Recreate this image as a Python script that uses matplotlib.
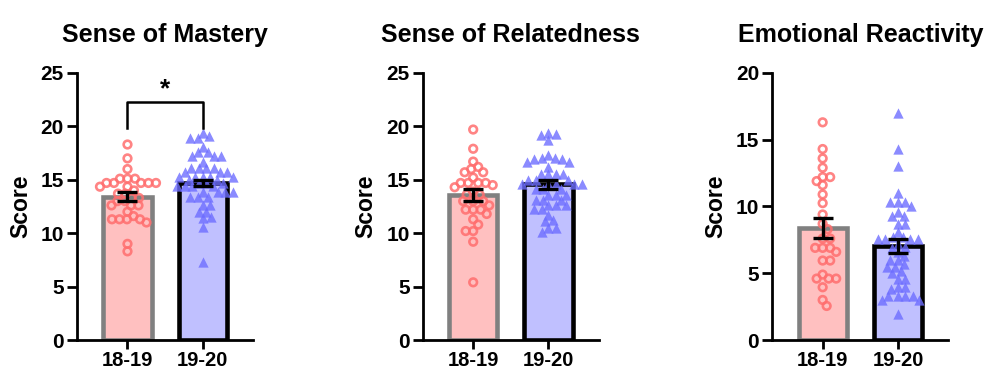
import numpy as np
import matplotlib
matplotlib.use("Agg")
import matplotlib.pyplot as plt

plt.rcParams['font.family'] = ['Liberation Sans', 'DejaVu Sans']
plt.rcParams['font.weight'] = 'bold'

titles = ["Sense of Mastery", "Sense of Relatedness", "Emotional Reactivity"]
groups = ["18-19", "19-20"]
ylims = [25, 25, 20]

mastery_1819 = [18.3, 17.0, 16.0, 15.1, 15.1, 15.1, 14.7, 14.7, 14.7, 14.7, 14.7,
                14.35, 14.35, 14.0, 13.7, 13.7, 13.3, 13.3, 13.0, 13.0, 12.6, 12.6,
                12.6, 12.0, 11.6, 11.3, 11.3, 11.3, 11.3, 11.0, 9.0, 8.3]
mastery_1920 = [19.4, 19.1, 18.9, 18.9, 18.1, 17.6, 17.6, 17.2, 17.2, 17.2, 16.7,
                16.1, 16.1, 16.1, 16.1, 15.7, 15.7, 15.7, 15.3, 15.3, 15.3, 15.3,
                15.3, 15.0, 15.0, 14.7, 14.7, 14.7, 14.4, 14.4, 14.4, 14.4,
                13.9, 13.9, 13.9, 13.9, 13.4, 13.4, 13.4, 12.6,
                12.6, 12.0, 12.0, 11.5, 11.4, 10.6, 7.3]
related_1819 = [19.7, 17.9, 16.7, 16.2, 16.0, 15.7, 15.7, 15.2, 14.7, 14.7, 14.7,
                14.7, 14.5, 14.3, 13.9, 13.6, 13.6, 13.0, 13.0, 13.0, 12.6, 12.2,
                12.2, 12.2, 11.8, 11.3, 10.8, 10.2, 10.2, 9.2, 5.4]
related_1920 = [19.4, 19.3, 19.2, 18.7, 17.3, 17.0, 17.0, 16.9, 16.9, 16.7, 16.7,
                16.2, 15.5, 15.5, 15.5, 15.5, 15.0, 15.0, 15.0, 14.6, 14.6, 14.6,
                14.6, 14.6, 14.1, 14.1, 14.1, 13.6, 13.6, 13.6, 13.1, 13.1,
                13.1, 12.6, 12.6, 12.6, 12.3, 12.3, 11.7, 11.2, 11.1, 10.5, 10.5, 10.1]
emo_1819 = [16.3, 14.3, 13.6, 12.9, 12.2, 12.2, 11.9, 11.6, 10.9, 10.25, 9.4, 8.7,
            8.3, 7.6, 7.6, 6.9, 6.9, 6.9, 6.6, 5.95, 5.95, 4.9, 4.6, 4.6, 4.6, 3.95,
            3.0, 2.55]
emo_1920 = [17.0, 14.3, 13.0, 11.0, 10.3, 10.3, 10.3, 10.0, 9.6, 9.3, 9.3, 8.7, 8.7,
            8.1, 7.7, 7.7, 7.6, 7.6, 7.6, 7.6, 7.2, 7.0, 6.9, 6.6, 6.3, 6.0, 6.0, 5.7,
            5.5, 5.5, 5.2, 5.0, 4.6, 4.6, 4.0, 4.0, 3.8, 3.3, 3.3, 3.3, 3.3, 3.0, 3.0,
            1.95]

means = [[13.4, 14.7], [13.55, 14.6], [8.4, 7.05]]
sems = [[0.42, 0.3], [0.58, 0.42], [0.76, 0.53]]

points = [[mastery_1819, mastery_1920], [related_1819, related_1920], [emo_1819, emo_1920]]

fig = plt.figure(figsize=(9.9, 3.72), dpi=100)
lefts = [0.0778, 0.427, 0.780]
W, B, H = 0.178, 0.086, 0.718

bar_face = ['#FFC0C0', '#C0C0FF']
bar_edge = ['#808080', '#000000']
pt_color = ['#FF6E6E', '#6E6EFF']


def swarm(ax, xc, vals, diam):
    # place points in pixel space (beeswarm), return x data coords
    trans = ax.transData
    ypix = np.array([trans.transform((xc, v))[1] for v in vals])
    x0pix = trans.transform((xc, 0))[0]
    pxu = trans.transform((xc + 1, 0))[0] - x0pix
    order = np.argsort(-np.array(vals), kind='stable')
    placed = []
    xs = np.zeros(len(vals))
    cands = [0.0]
    for k in range(1, 200):
        cands += [k * 0.5, -k * 0.5]
    for i in order:
        for c in cands:
            ok = True
            for (px, py) in placed:
                if (px - c) ** 2 + (py - ypix[i]) ** 2 < diam ** 2:
                    ok = False
                    break
            if ok:
                placed.append((c, ypix[i]))
                xs[i] = xc + c / pxu
                break
    return xs


for p in range(3):
    ax = fig.add_axes([lefts[p], B, W, H])
    ax.set_xlim(-0.67, 1.67)
    ax.set_ylim(0, ylims[p])
    for g in range(2):
        ax.bar(g, means[p][g], width=0.64, color=bar_face[g], edgecolor=bar_edge[g],
               linewidth=3.3, zorder=1)
    fig.canvas.draw()
    for g in range(2):
        xs = swarm(ax, g, points[p][g], 7.2)
        if g == 0:
            ax.scatter(xs, points[p][g], s=30, marker='o', facecolors='none',
                       edgecolors=pt_color[g], linewidths=1.9, alpha=0.85, zorder=3)
        else:
            ax.scatter(xs, points[p][g], s=55, marker='^', color=pt_color[g],
                       linewidths=0, alpha=0.8, zorder=3)
        ax.errorbar(g, means[p][g], yerr=sems[p][g], fmt='none', ecolor='black',
                    elinewidth=2.4, capsize=7.2, capthick=2.4, zorder=4)
    for s in ['top', 'right']:
        ax.spines[s].set_visible(False)
    for s in ['left', 'bottom']:
        ax.spines[s].set_linewidth(2.0)
    ax.set_yticks(np.arange(0, ylims[p] + 1, 5))
    ax.set_xticks([0, 1])
    ax.set_xticklabels(groups)
    ax.tick_params(axis='y', width=2.0, length=7.5, labelsize=15, pad=2)
    ax.tick_params(axis='x', width=2.0, length=6.5, labelsize=14.5, pad=1.5)
    for lab in ax.get_xticklabels() + ax.get_yticklabels():
        lab.set_fontweight('bold')
    ax.set_ylabel("Score", fontsize=16.5, fontweight='bold', labelpad=6)
    ax.set_title(titles[p], fontsize=18, fontweight='bold', pad=22)

    if p == 0:
        ax.plot([0, 0, 1, 1], [19.8, 22.3, 22.3, 19.8], color='black', lw=1.8,
                clip_on=False, zorder=5)
        ax.text(0.5, 22.8, "*", ha='center', va='baseline', fontsize=19,
                fontweight='bold')

fig.savefig("out.png", dpi=100)
